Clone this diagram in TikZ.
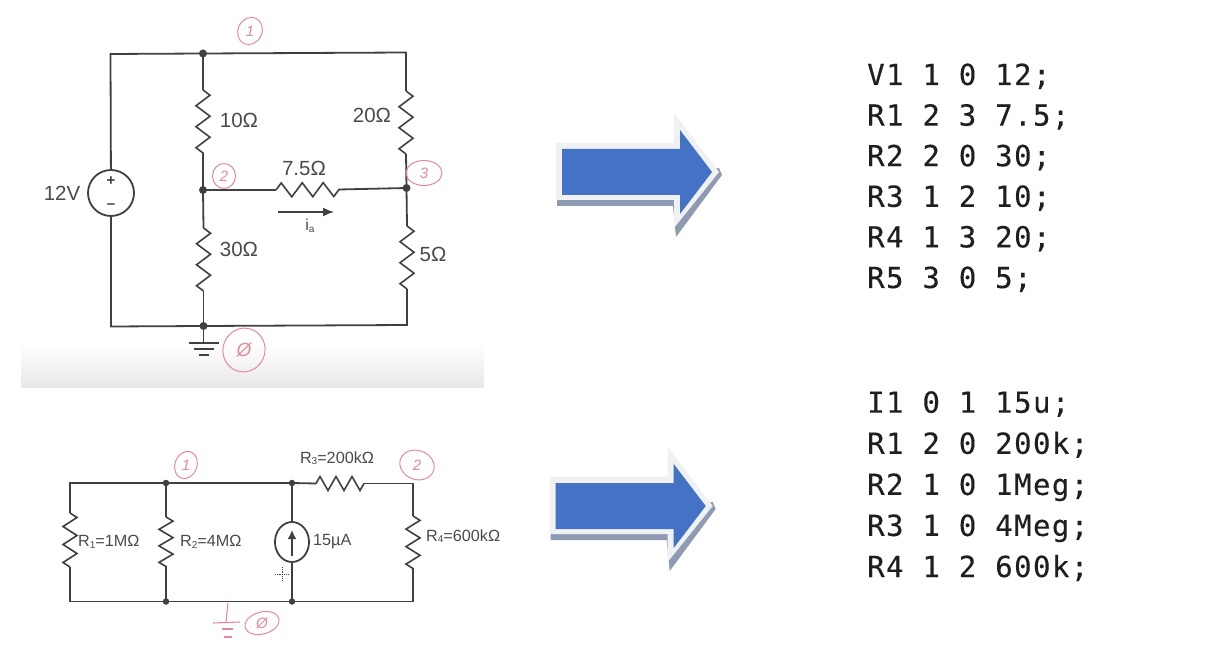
\documentclass[tikz,border=0pt]{standalone}
\usepackage{fontspec}
\setmainfont{Liberation Sans}
\newfontfamily\codefont[LetterSpace=5,FakeBold=0.3]{DejaVu Sans Mono}
\usetikzlibrary{decorations.pathmorphing,arrows.meta,shapes.geometric}
\definecolor{wire}{HTML}{404040}
\definecolor{ink}{HTML}{4A4A4A}
\definecolor{pinkpen}{HTML}{E58A97}
\definecolor{arrowblue}{HTML}{4472C4}
\definecolor{arrowhalo}{HTML}{F0F1F3}
\definecolor{arrowshade}{HTML}{8F9BB3}
\newcommand{\lbl}[1]{\fontsize{#1}{#1}\selectfont}
\newcommand{\sbs}[1]{\raisebox{-1.5pt}{\fontsize{10}{10}\selectfont #1}}
\tikzset{
  x=1pt,y=-1pt,
  wireline/.style={draw=wire,line width=1.8pt,line join=miter},
  res/.style={draw=wire,line width=1.6pt,decorate,decoration={zigzag,segment length=#1,amplitude=7pt}},
  res/.default=21pt,
  junct/.style={circle,fill=wire,inner sep=0pt,minimum size=8pt},
  big/.style={text=ink,inner sep=0pt,font=\lbl{20.5}},
  small/.style={text=ink,inner sep=0pt,font=\lbl{16.2}},
  code/.style={anchor=base west,inner sep=0pt,text=black!88,font=\codefont\lbl{29}},
  pinkring/.style={draw=pinkpen,line width=1pt,ellipse,inner sep=0pt},
  pinktext/.style={text=pinkpen,inner sep=0pt,font=\lbl{15}\itshape},
  pinkline/.style={draw=pinkpen,line width=1.1pt},
  halo/.style={fill=arrowhalo},
  shade/.style={fill=arrowshade},
  body/.style={fill=arrowblue},
}
\begin{document}
\begin{tikzpicture}
\useasboundingbox (0,0) rectangle (1205,652);
% soft band under the first circuit
\shade[top color=white,bottom color=black!9] (21,343) rectangle (484,387);

% ---------- first circuit
\node[junct] (a1) at (203,53.5) {};
\node[junct] (a2) at (203,190) {};
\node[junct] (a3) at (406.5,188) {};
\node[junct] (a0) at (203.5,326) {};
\coordinate (tl) at (110.5,54);
\coordinate (tr) at (406,52.5);
\coordinate (bl) at (111,326.5);
\coordinate (br) at (407,325);
\node[circle,draw=wire,line width=1.8pt,minimum size=46pt,inner sep=0pt] (vs) at (111,193) {};
\node[inner sep=0pt,text=wire,font=\bfseries\lbl{15}] (vplus) at (111,181) {+};
\node[inner sep=0pt,text=wire,font=\bfseries\lbl{15}] (vminus) at (111,206) {–};

\coordinate (r10a) at (203,90); \coordinate (r10b) at (203,155);
\coordinate (r30a) at (203.5,228); \coordinate (r30b) at (203.5,291);
\coordinate (r20a) at (406,91); \coordinate (r20b) at (406,154);
\coordinate (r5a) at (407,226); \coordinate (r5b) at (407,289);
\coordinate (r75a) at (276,190); \coordinate (r75b) at (339,189.5);

\draw[wireline] (vs) -- (tl) -- (a1.center) -- (tr) -- (r20a);
\draw[wireline] (vs) -- (bl) -- (a0.center) -- (br) -- (r5b);
\draw[wireline] (a1.center) -- (r10a);
\draw[wireline] (r10b) -- (a2.center) -- (r30a);
\draw[wireline] (r30b) -- (a0.center);
\draw[wireline] (r20b) -- (a3.center) -- (r5a);
\draw[wireline] (a2.center) -- (r75a);
\draw[wireline] (r75b) -- (a3.center);
\draw[res] (r10a) -- (r10b);
\draw[res] (r30a) -- (r30b);
\draw[res] (r20a) -- (r20b);
\draw[res] (r5a) -- (r5b);
\draw[res] (r75a) -- (r75b);

\node[big] (l10) at (239,120) {10Ω};
\node[big] (l20) at (372,115) {20Ω};
\node[big] (l30) at (239,249) {30Ω};
\node[big] (l5) at (433,254) {5Ω};
\node[big] (l75) at (304,168) {7.5Ω};
\node[big] (l12) at (62,193) {12V};

\coordinate (ia1) at (278,212);
\coordinate (ia2) at (334,212);
\draw[wire,line width=1.6pt,-{Latex[length=11pt,width=9pt]}] (ia1) -- (ia2);
\node[text=ink,inner sep=0pt,font=\lbl{16}] (ial) at (310,226) {i\sbs{a}};

% ground 1
\coordinate (g1) at (203.5,343);
\coordinate (g1l) at (188.5,343); \coordinate (g1r) at (218.5,343);
\coordinate (g2l) at (193.5,349); \coordinate (g2r) at (213.5,349);
\coordinate (g3l) at (198.5,355); \coordinate (g3r) at (208.5,355);
\draw[wireline] (a0.center) -- (g1);
\draw[wireline] (g1l) -- (g1r);
\draw[wireline] (g2l) -- (g2r);
\draw[wireline] (g3l) -- (g3r);

% handwritten node marks 1
\node[pinkring,minimum width=24pt,minimum height=28pt,rotate=-25] (m1) at (250,31) {};
\node[pinktext] (t1) at (250,31) {1};
\node[pinkring,minimum width=23pt,minimum height=25pt] (m2) at (224,176) {};
\node[pinktext] (t2) at (224,176) {2};
\node[pinkring,minimum width=36pt,minimum height=25pt] (m3) at (424,173) {};
\node[pinktext] (t3) at (424,173) {3};
\node[pinkring,minimum width=42pt,minimum height=44pt,rotate=-20] (m0) at (244,350) {};
\node[pinktext,font=\lbl{19}\itshape] (t0) at (244,350) {Ø};

% ---------- second circuit
\node[junct,minimum size=6.5pt] (b1) at (166,483) {};
\node[junct,minimum size=6.5pt] (b2) at (292,483) {};
\node[junct,minimum size=6.5pt] (b3) at (166,601.5) {};
\node[junct,minimum size=6.5pt] (b4) at (292,601.5) {};
\coordinate (ctl) at (70,483);
\coordinate (cbl) at (70,601.5);
\coordinate (ctr) at (413,483.5);
\coordinate (cbr) at (413,601.5);
\coordinate (ra1) at (70,513); \coordinate (ra2) at (70,567);
\coordinate (rb1) at (166,517); \coordinate (rb2) at (166,567);
\coordinate (rd1) at (413,516); \coordinate (rd2) at (413,569);
\coordinate (rc1) at (316,483.5); \coordinate (rc2) at (364,483.5);
\node[ellipse,draw=wire,line width=1.8pt,minimum width=34pt,minimum height=40pt,inner sep=0pt] (is) at (292,542) {};
\draw[wireline] (ra1) -- (ctl) -- (b1.center) -- (b2.center) -- (rc1);
\draw[wireline] (rc2) -- (ctr) -- (rd1);
\draw[wireline] (ra2) -- (cbl) -- (b3.center) -- (b4.center) -- (cbr) -- (rd2);
\draw[wireline] (b1.center) -- (rb1);
\draw[wireline] (rb2) -- (b3.center);
\draw[wireline] (b2.center) -- (is);
\draw[wireline] (is) -- (b4.center);
\draw[res=18pt] (ra1) -- (ra2);
\draw[res=16.5pt] (rb1) -- (rb2);
\draw[res=17.5pt] (rd1) -- (rd2);
\draw[res=16pt] (rc1) -- (rc2);
\coordinate (isa) at (292,556);
\coordinate (isb) at (292,530);
\draw[wire,line width=1.8pt,-{Latex[length=9pt,width=9pt]}] (isa) -- (isb);

\node[small,anchor=west] (lr1) at (78,542) {R\sbs{1}=1MΩ};
\node[small,anchor=west] (lr2) at (180,542) {R\sbs{2}=4MΩ};
\node[small,anchor=west] (lr4) at (426,536) {R\sbs{4}=600kΩ};
\node[small,anchor=center] (lr3) at (337,458) {R\sbs{3}=200kΩ};
\node[small,anchor=west] (li) at (313,542) {15µA};

% cursor specks
\coordinate (curl) at (275,574); \coordinate (curr) at (289,574);
\coordinate (curt) at (282,567); \coordinate (curb) at (282,581);
\draw[ink,line width=0.8pt,densely dotted] (curl) -- (curr);
\draw[ink,line width=0.8pt,densely dotted] (curt) -- (curb);

% handwritten marks 2
\node[pinkring,minimum width=22pt,minimum height=28pt,rotate=-20] (n1) at (186,465) {};
\node[pinktext] (u1) at (186,465) {1};
\node[pinkring,minimum width=35pt,minimum height=29pt,rotate=-20] (n2) at (417,465) {};
\node[pinktext] (u2) at (417,465) {2};
\node[pinkring,minimum width=35pt,minimum height=22pt,rotate=15] (n0) at (262,623) {};
\node[pinktext] (u0) at (262,623) {Ø};
\coordinate (hg1) at (228,603);
\coordinate (hg2) at (226,622);
\coordinate (hg3) at (213,623);
\coordinate (hg4) at (240,622);
\coordinate (hg5) at (222,629);
\coordinate (hg6) at (233,629);
\coordinate (hg7) at (224,637);
\coordinate (hg8) at (232,637);
\draw[pinkline] (hg1) -- (hg2);
\draw[pinkline] (hg3) -- (hg4);
\draw[pinkline] (hg5) -- (hg6);
\draw[pinkline] (hg7) -- (hg8);

% ---------- block arrows
\foreach \name/\sx/\sy in {one/0/0,two/-6.3/334}{
  \begin{scope}[shift={(\sx,\sy)}]
    \fill[shade] (557,200) -- (557,206) -- (673,206) -- (676,237) -- (722,175) -- (719,168) -- cycle;
    \fill[halo] (556,143) -- (674,143) -- (674,113) -- (719,172) -- (674,228) -- (674,200) -- (556,200) -- cycle;
    \fill[body] (562,149) -- (680,149) -- (680,130) -- (712,172) -- (680,214) -- (680,195) -- (562,195) -- cycle;
  \end{scope}
}

% ---------- netlists
\node[code] (c1) at (867,85) {V1 1 0 12;};
\node[code] (c2) at (867,125.6) {R1 2 3 7.5;};
\node[code] (c3) at (867,166.2) {R2 2 0 30;};
\node[code] (c4) at (867,206.8) {R3 1 2 10;};
\node[code] (c5) at (867,247.4) {R4 1 3 20;};
\node[code] (c6) at (867,288) {R5 3 0 5;};
\node[code] (d1) at (867,412.7) {I1 0 1 15u;};
\node[code] (d2) at (867,453.8) {R1 2 0 200k;};
\node[code] (d3) at (867,494.9) {R2 1 0 1Meg;};
\node[code] (d4) at (867,535.9) {R3 1 0 4Meg;};
\node[code] (d5) at (867,577) {R4 1 2 600k;};
\end{tikzpicture}
\end{document}
